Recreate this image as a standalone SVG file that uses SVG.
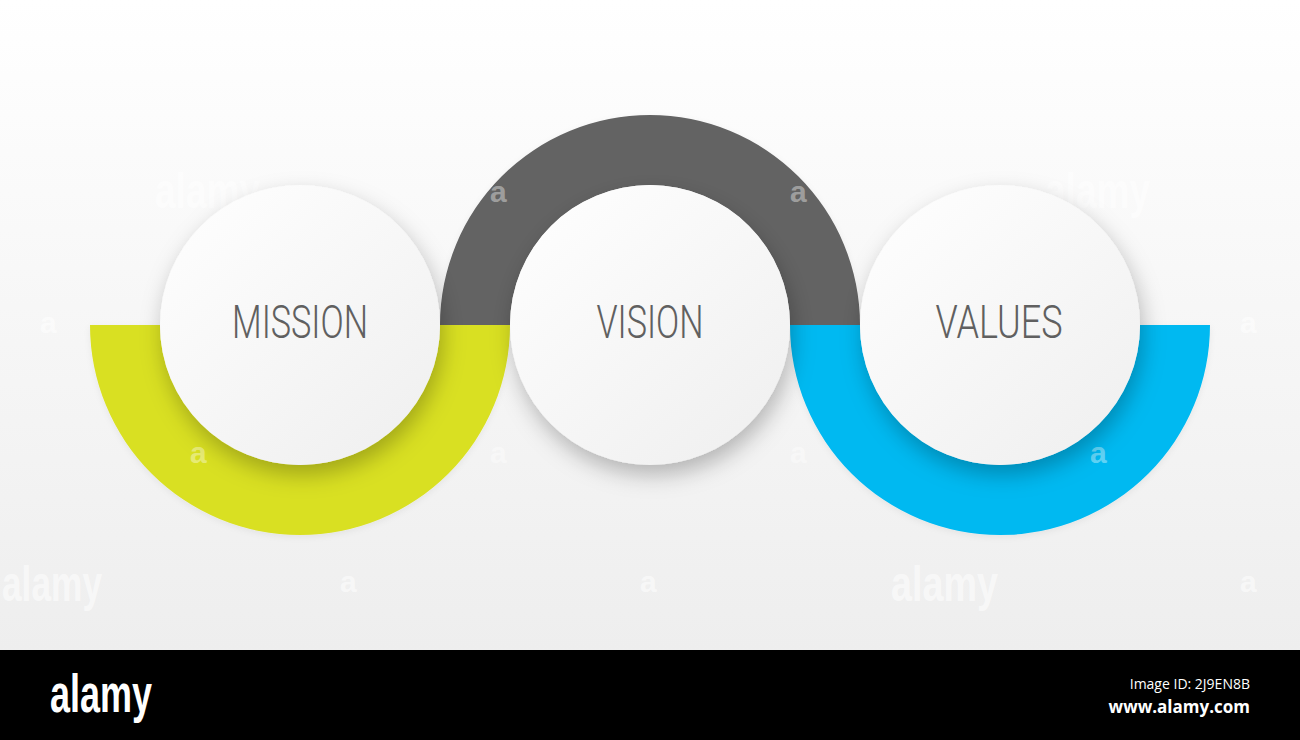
<svg xmlns="http://www.w3.org/2000/svg" width="1300" height="740" viewBox="0 0 1300 740">
  <defs>
    <linearGradient id="bg" x1="0" y1="0" x2="0" y2="1">
      <stop offset="0" stop-color="#ffffff"/>
      <stop offset="1" stop-color="#eeeeee"/>
    </linearGradient>
    <linearGradient id="disc" x1="0.15" y1="0.1" x2="0.85" y2="0.95">
      <stop offset="0" stop-color="#fdfdfd"/>
      <stop offset="1" stop-color="#f0f0f0"/>
    </linearGradient>
    <filter id="shadow" x="-30%" y="-30%" width="160%" height="170%">
      <feDropShadow dx="3" dy="10" stdDeviation="11" flood-color="#000" flood-opacity="0.26"/>
    </filter>
    <filter id="ringshadow" x="-10%" y="-10%" width="120%" height="130%">
      <feDropShadow dx="0" dy="2" stdDeviation="3" flood-color="#000" flood-opacity="0.06"/>
    </filter>
  </defs>
  <style>
    .disc { fill: url(#disc); filter: url(#shadow); }
    .label { font-family: Roboto, "Liberation Sans", sans-serif; font-weight: 300; font-size: 47px; fill: #606060; text-anchor: middle; }
    .wm { font-family: "Liberation Sans", Arial, sans-serif; font-weight: bold; fill: #ffffff; fill-opacity: 0.55; }
    .mk { font-family: "Liberation Sans", Arial, sans-serif; font-weight: bold; font-size: 30px; fill: #ffffff; fill-opacity: 0.4; }
  </style>
  <rect x="0" y="0" width="1300" height="650" fill="url(#bg)"/>

  <g id="watermarks">
    <text class="wm" x="2" y="601" font-size="50" textLength="100" lengthAdjust="spacingAndGlyphs">alamy</text>
    <text class="wm" x="891" y="601" font-size="50" textLength="107" lengthAdjust="spacingAndGlyphs">alamy</text>
    <text class="wm" x="155" y="208" font-size="50" textLength="105" lengthAdjust="spacingAndGlyphs">alamy</text>
    <text class="wm" x="1045" y="208" font-size="50" textLength="105" lengthAdjust="spacingAndGlyphs">alamy</text>
    <text class="wm" x="340" y="592" font-size="30">a</text>
    <text class="wm" x="640" y="592" font-size="30">a</text>
    <text class="wm" x="1240" y="592" font-size="30">a</text>
    <text class="wm" x="40" y="333" font-size="30">a</text>
    <text class="wm" x="1240" y="333" font-size="30">a</text>
  </g>

  <g id="connectors" filter="url(#ringshadow)">
    <path id="ring-mission" d="M 90 325 A 210 210 0 0 0 510 325 L 440 325 A 140 140 0 0 1 160 325 Z" fill="#d9e021"/>
    <path id="ring-vision" d="M 440 325 A 210 210 0 0 1 860 325 L 790 325 A 140 140 0 0 0 510 325 Z" fill="#636363"/>
    <path id="ring-values" d="M 790 325 A 210 210 0 0 0 1210 325 L 1140 325 A 140 140 0 0 1 860 325 Z" fill="#00b9f1"/>
  </g>

  <g id="ring-marks">
    <text class="mk" x="490" y="202">a</text>
    <text class="mk" x="790" y="202">a</text>
    <text class="mk" x="190" y="463">a</text>
    <text class="mk" x="490" y="463">a</text>
    <text class="mk" x="790" y="463">a</text>
    <text class="mk" x="1090" y="463">a</text>
  </g>

  <g id="node-mission">
    <circle class="disc" cx="300" cy="325" r="140"/>
    <text class="label" x="300" y="338" textLength="136" lengthAdjust="spacingAndGlyphs">MISSION</text>
  </g>
  <g id="node-vision">
    <circle class="disc" cx="650" cy="325" r="140"/>
    <text class="label" x="650" y="338" textLength="107" lengthAdjust="spacingAndGlyphs">VISION</text>
  </g>
  <g id="node-values">
    <circle class="disc" cx="1000" cy="325" r="140"/>
    <text class="label" x="999" y="338" textLength="127" lengthAdjust="spacingAndGlyphs">VALUES</text>
  </g>

  <g id="footer">
    <rect x="0" y="650" width="1300" height="90" fill="#000000"/>
    <text x="50" y="712" font-family="'Liberation Sans', Arial, sans-serif" font-weight="bold" font-size="54" fill="#ffffff" textLength="102" lengthAdjust="spacingAndGlyphs">alamy</text>
    <text x="1250" y="689" font-family="'Open Sans', 'DejaVu Sans', sans-serif" font-size="14" fill="#ffffff" text-anchor="end">Image ID: 2J9EN8B</text>
    <text x="1250" y="713" font-family="'Open Sans', 'DejaVu Sans', sans-serif" font-weight="bold" font-size="17" fill="#ffffff" text-anchor="end">www.alamy.com</text>
  </g>
</svg>
